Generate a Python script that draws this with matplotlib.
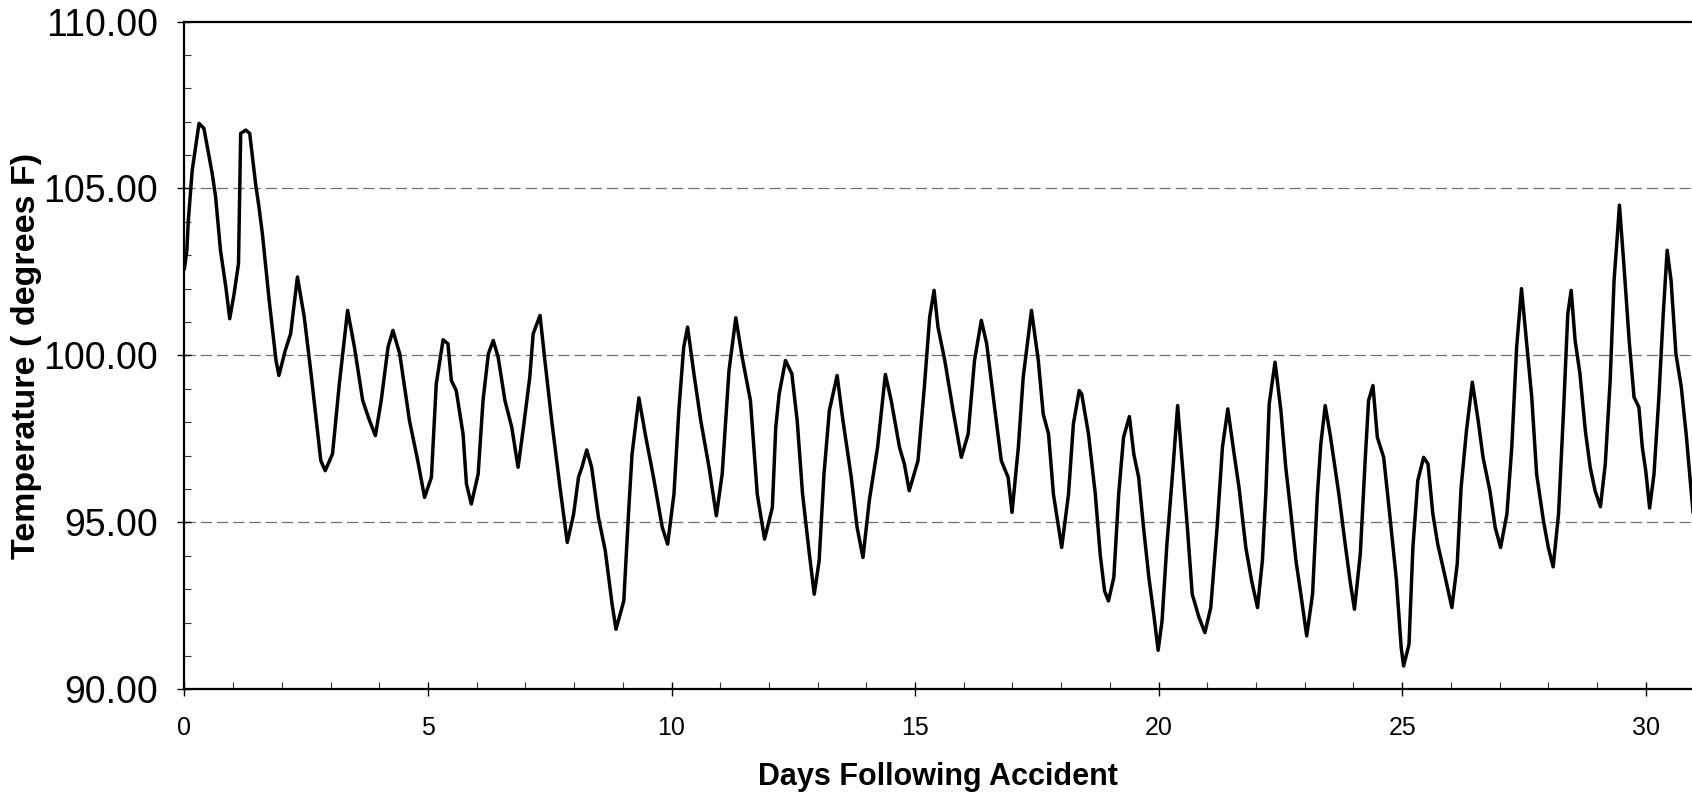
import numpy as np
import matplotlib

matplotlib.use("Agg")
import matplotlib.pyplot as plt
from matplotlib.ticker import MultipleLocator, FormatStrFormatter

# core temperature trace (day, deg F)
days = [
    0.00, 0.05, 0.08, 0.16, 0.30, 0.40, 0.57, 0.64, 0.74, 0.85, 0.93, 1.02, 1.11,
    1.155, 1.26, 1.34, 1.46, 1.53, 1.60, 1.74, 1.88, 1.94, 2.07, 2.18, 2.32, 2.46,
    2.60, 2.70, 2.80, 2.89, 3.04, 3.18, 3.35, 3.49, 3.66, 3.80, 3.92, 4.04, 4.18,
    4.28, 4.42, 4.62, 4.79, 4.93, 5.07, 5.17, 5.31, 5.41, 5.48, 5.58, 5.72, 5.79,
    5.89, 6.03, 6.13, 6.24, 6.34, 6.44, 6.58, 6.72, 6.85, 6.96, 7.09, 7.16, 7.30,
    7.40, 7.54, 7.71, 7.86, 7.99, 8.09, 8.16, 8.26, 8.36, 8.50, 8.64, 8.78, 8.86,
    9.02, 9.12, 9.19, 9.33, 9.46, 9.63, 9.81, 9.92, 10.05, 10.15, 10.25, 10.33,
    10.46, 10.60, 10.77, 10.92, 11.04, 11.18, 11.32, 11.45, 11.62, 11.76, 11.91,
    12.07, 12.14, 12.21, 12.34, 12.47, 12.58, 12.69, 12.83, 12.93, 13.03, 13.13,
    13.24, 13.40, 13.51, 13.69, 13.81, 13.93, 14.06, 14.23, 14.39, 14.51, 14.68,
    14.78, 14.88, 15.06, 15.19, 15.30, 15.39, 15.47, 15.61, 15.78, 15.95, 16.09,
    16.22, 16.36, 16.47, 16.64, 16.77, 16.91, 16.99, 17.12, 17.22, 17.39, 17.53,
    17.63, 17.74, 17.84, 18.01, 18.15, 18.25, 18.37, 18.42, 18.56, 18.70, 18.80,
    18.89, 18.97, 19.08, 19.18, 19.28, 19.40, 19.49, 19.59, 19.69, 19.80, 19.90,
    19.99, 20.07, 20.17, 20.28, 20.39, 20.48, 20.59, 20.69, 20.83, 20.95, 21.07,
    21.20, 21.31, 21.42, 21.55, 21.65, 21.79, 21.91, 22.03, 22.13, 22.20, 22.27,
    22.39, 22.51, 22.61, 22.71, 22.82, 22.92, 23.04, 23.16, 23.26, 23.33, 23.42,
    23.53, 23.70, 23.83, 23.93, 24.02, 24.14, 24.24, 24.31, 24.40, 24.49, 24.62,
    24.74, 24.88, 24.98, 25.03, 25.14, 25.22, 25.32, 25.44, 25.53, 25.63, 25.73,
    25.87, 26.02, 26.13, 26.21, 26.32, 26.44, 26.56, 26.66, 26.80, 26.91, 27.02,
    27.15, 27.25, 27.35, 27.45, 27.55, 27.66, 27.76, 27.90, 28.00, 28.10, 28.21,
    28.31, 28.40, 28.47, 28.55, 28.65, 28.76, 28.86, 28.96, 29.07, 29.17, 29.27,
    29.35, 29.41, 29.46, 29.55, 29.66, 29.76, 29.86, 29.93, 30.00, 30.08, 30.17,
    30.27, 30.36, 30.44, 30.52, 30.62, 30.73, 30.83, 30.94, 31.02,
]
temps = [
    102.6, 103.15, 104.05, 105.55, 106.95, 106.8, 105.45, 104.75, 103.15, 102.05,
    101.1, 101.85, 102.75, 106.65, 106.75, 106.65, 105.15, 104.45, 103.65, 101.65,
    99.85, 99.4, 100.15, 100.65, 102.35, 101.15, 99.45, 98.15, 96.85, 96.55, 97.05,
    99.15, 101.35, 100.25, 98.65, 98.05, 97.6, 98.65, 100.25, 100.75, 100.05, 98.05,
    96.85, 95.75, 96.35, 99.15, 100.47, 100.35, 99.25, 98.95, 97.65, 96.15, 95.55,
    96.45, 98.65, 100.05, 100.45, 99.95, 98.65, 97.85, 96.65, 97.85, 99.35, 100.65,
    101.2, 99.85, 98.05, 96.05, 94.4, 95.25, 96.35, 96.65, 97.17, 96.65, 95.15,
    94.15, 92.55, 91.8, 92.65, 95.35, 97.05, 98.73, 97.65, 96.35, 94.85, 94.35,
    95.85, 98.35, 100.25, 100.85, 99.45, 98.05, 96.65, 95.2, 96.45, 99.55, 101.13,
    99.95, 98.65, 95.85, 94.5, 95.45, 97.85, 98.85, 99.85, 99.45, 98.05, 95.85,
    94.05, 92.85, 93.85, 96.45, 98.35, 99.4, 98.15, 96.35, 94.85, 93.95, 95.65,
    97.25, 99.43, 98.65, 97.25, 96.75, 95.95, 96.85, 99.05, 101.15, 101.95, 100.85,
    99.85, 98.35, 96.95, 97.65, 99.85, 101.05, 100.35, 98.35, 96.85, 96.35, 95.3,
    97.25, 99.35, 101.35, 99.85, 98.25, 97.65, 95.85, 94.25, 95.85, 97.95, 98.95,
    98.85, 97.65, 95.85, 94.05, 92.95, 92.65, 93.35, 95.85, 97.55, 98.17, 97.05,
    96.35, 94.85, 93.35, 92.25, 91.17, 92.05, 94.35, 96.35, 98.5, 96.85, 94.85,
    92.85, 92.15, 91.7, 92.45, 94.85, 97.25, 98.4, 97.05, 96.05, 94.25, 93.25,
    92.45, 93.85, 95.85, 98.55, 99.8, 98.35, 96.65, 95.35, 93.85, 92.85, 91.6,
    92.85, 95.85, 97.35, 98.5, 97.55, 95.85, 94.35, 93.25, 92.4, 94.05, 96.85,
    98.65, 99.1, 97.55, 96.95, 95.3, 93.3, 91.25, 90.7, 91.35, 94.25, 96.25, 96.95,
    96.75, 95.25, 94.35, 93.45, 92.45, 93.75, 96.05, 97.75, 99.2, 98.05, 96.95,
    95.95, 94.85, 94.25, 95.25, 97.25, 100.25, 102.0, 100.45, 98.75, 96.45, 95.05,
    94.25, 93.67, 95.25, 98.25, 101.25, 101.95, 100.45, 99.45, 97.75, 96.65, 95.95,
    95.47, 96.75, 99.25, 102.25, 103.45, 104.5, 102.75, 100.45, 98.75, 98.45, 97.25,
    96.55, 95.43, 96.45, 98.75, 101.25, 103.15, 102.25, 100.05, 99.05, 97.65, 95.85,
    94.45,
]

plt.rcParams["font.family"] = ["Liberation Sans", "DejaVu Sans"]

W, H = 1692, 797
fig = plt.figure(figsize=(W / 100, H / 100), dpi=100)
ax = fig.add_axes([0.109, 0.135, 0.891, 0.838])

# dashed horizontal guides like the spreadsheet original
for y in (95, 100, 105):
    ax.axhline(y, color="#707070", lw=0.9, dashes=(9, 4), zorder=1)

ax.plot(days, temps, color="black", lw=2.5, zorder=3, solid_joinstyle="round")

ax.set_xlim(0, 30.95)
ax.set_ylim(90, 110)

ax.xaxis.set_major_locator(MultipleLocator(5))
ax.xaxis.set_minor_locator(MultipleLocator(1))
ax.yaxis.set_major_locator(MultipleLocator(5))
ax.yaxis.set_minor_locator(MultipleLocator(1))
ax.yaxis.set_major_formatter(FormatStrFormatter("%.2f"))

ax.tick_params(axis="both", which="major", direction="inout", length=10, width=1.0, color="black")
ax.tick_params(axis="both", which="minor", direction="in", length=5, width=0.8, color="#333333")
ax.tick_params(axis="y", which="major", labelsize=27, pad=14)
ax.tick_params(axis="x", which="major", labelsize=18, pad=14)

for side in ("left", "bottom", "top"):
    ax.spines[side].set_linewidth(1.6)
    ax.spines[side].set_color("black")
ax.spines["right"].set_visible(False)

# axis titles placed in figure pixels, centred on the text
fig.text(938 / W, 1 - 777 / H, "Days Following Accident",
         fontsize=22, fontweight="bold", ha="center", va="center")
fig.text(27 / W, 1 - 356 / H, "Temperature ( degrees F)",
         fontsize=24.5, fontweight="bold", ha="center", va="center", rotation=90)

fig.savefig("out.png", dpi=100, facecolor="white")
